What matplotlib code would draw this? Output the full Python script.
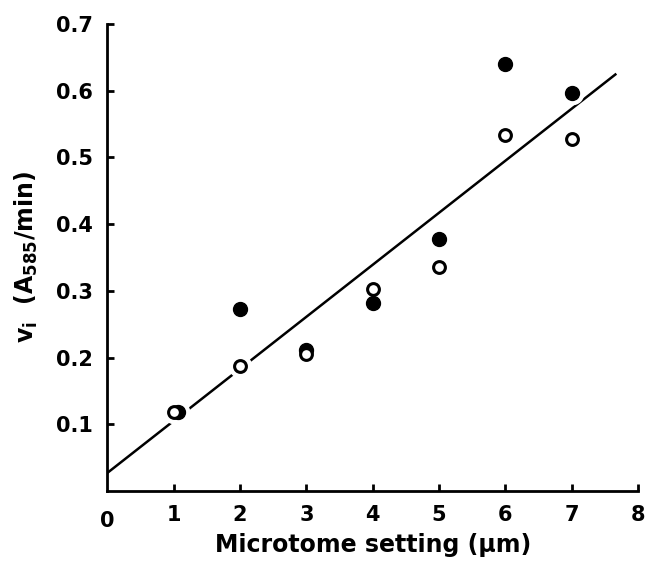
import numpy as np
import matplotlib.pyplot as plt

plt.rcParams['font.family'] = 'DejaVu Sans'
plt.rcParams['mathtext.default'] = 'regular'

# microtome setting (um) and initial rate, two series
x_filled = [1.06, 2, 3, 4, 5, 6, 7]
y_filled = [0.119, 0.273, 0.212, 0.282, 0.378, 0.640, 0.597]
x_open = [1, 2, 3, 4, 5, 6, 7]
y_open = [0.119, 0.188, 0.206, 0.303, 0.335, 0.534, 0.528]

# regression line
fit_intercept = 0.027
fit_slope = 0.078
fit_x = [0, 7.67]

xticks = [1, 2, 3, 4, 5, 6, 7, 8]
yticks = [0.1, 0.2, 0.3, 0.4, 0.5, 0.6, 0.7]

fig = plt.figure(figsize=(6.46, 5.67), dpi=100)
ax = fig.add_axes([0.166, 0.134, 0.822, 0.824])

lx = np.array(fit_x)
ax.plot(lx, fit_intercept + fit_slope * lx, color='black', lw=1.8,
        solid_capstyle='butt', zorder=2)

# white halos so the line breaks around the points
ax.plot(x_filled, y_filled, 'o', ms=16, color='white', zorder=3, clip_on=False)
ax.plot(x_open, y_open, 'o', ms=16, color='white', zorder=3, clip_on=False)

ax.plot(x_filled, y_filled, 'o', ms=10, color='black', zorder=4)
ax.plot(x_open, y_open, 'o', ms=8.5, mfc='white', mec='black', mew=2.2, zorder=5)

ax.set_xlim(0, 8)
ax.set_ylim(0, 0.7)
ax.set_xticks(xticks)
ax.set_yticks(yticks)
ax.set_xticklabels([str(t) for t in xticks])
ax.set_yticklabels([f'{t:.1f}' for t in yticks])

for s in ['top', 'right']:
    ax.spines[s].set_visible(False)
for s in ['left', 'bottom']:
    ax.spines[s].set_linewidth(2)

ax.tick_params(direction='in', length=5, width=2, labelsize=15, pad=10)
for lab in ax.get_xticklabels() + ax.get_yticklabels():
    lab.set_fontweight('bold')

ax.text(0, -0.045, '0', ha='center', va='center', fontsize=15,
        fontweight='bold', transform=ax.transData)

ax.set_xlabel('Microtome setting (μm)', fontsize=17, fontweight='bold', labelpad=6)
ax.set_ylabel('v$_i$  (A$_{585}$/min)', fontsize=17, fontweight='bold', labelpad=12)

fig.savefig('out.png', dpi=100)
